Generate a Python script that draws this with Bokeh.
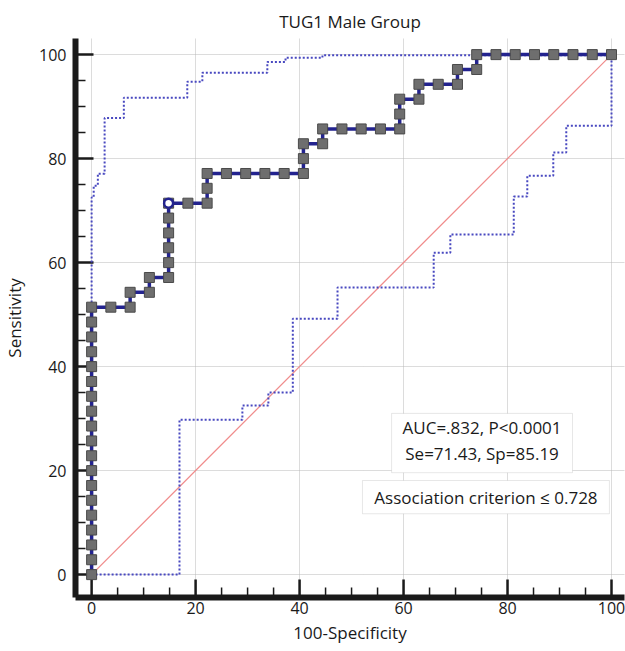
import math
from bokeh.plotting import figure
from bokeh.models import BoxAnnotation, Label, FixedTicker
from bokeh.embed import file_html
from bokeh.resources import INLINE

# ROC curve of TUG1 (male group): 100-specificity vs sensitivity, in percent
roc_fpr = [0, 0, 0, 0, 0, 0, 0, 0, 0, 0, 0, 0, 0, 0, 0, 0, 0, 0, 0,
           3.70, 7.41, 7.41, 11.11, 11.11, 14.81, 14.81, 14.81, 14.81, 14.81, 14.81,
           18.52, 22.22, 22.22, 22.22, 25.93, 29.63, 33.33, 37.04, 40.74, 40.74, 40.74,
           44.44, 44.44, 48.15, 51.85, 55.56, 59.26, 59.26, 59.26, 62.96, 62.96,
           66.67, 70.37, 70.37, 74.07, 74.07, 77.78, 81.48, 85.19, 88.89, 92.59, 96.30, 100]
roc_tpr = [0, 2.86, 5.71, 8.57, 11.43, 14.29, 17.14, 20.00, 22.86, 25.71, 28.57,
           31.43, 34.29, 37.14, 40.00, 42.86, 45.71, 48.57, 51.43,
           51.43, 51.43, 54.29, 54.29, 57.14, 57.14, 60.00, 62.86, 65.71, 68.57, 71.43,
           71.43, 71.43, 74.29, 77.14, 77.14, 77.14, 77.14, 77.14, 77.14, 80.00, 82.86,
           82.86, 85.71, 85.71, 85.71, 85.71, 85.71, 88.57, 91.43, 91.43, 94.29,
           94.29, 94.29, 97.14, 97.14, 100, 100, 100, 100, 100, 100, 100, 100]

# optimal cut-off (Youden) point
crit_fpr = [14.81]
crit_tpr = [71.43]

# 95% confidence bounds of the curve
upper_fpr = [0, 0, 0.4, 0.4, 1.2, 1.2, 2.5, 2.5, 6.2, 6.2, 18.4, 18.4, 21.3, 21.3,
             33.8, 33.8, 37.3, 37.3, 44.4, 44.4, 100]
upper_tpr = [0, 72.5, 72.5, 74.8, 74.8, 77.1, 77.1, 87.8, 87.8, 91.7, 91.7, 94.8, 94.8, 96.5,
             96.5, 98.6, 98.6, 99.4, 99.4, 99.9, 99.9]
lower_fpr = [0, 16.9, 16.9, 29.0, 29.0, 34.0, 34.0, 38.7, 38.7, 47.3, 47.3, 65.8, 65.8,
             69.0, 69.0, 81.2, 81.2, 83.8, 83.8, 88.8, 88.8, 91.3, 91.3, 100, 100]
lower_tpr = [0, 0, 29.8, 29.8, 32.5, 32.5, 35.0, 35.0, 49.2, 49.2, 55.2, 55.2, 61.9,
             61.9, 65.4, 65.4, 72.7, 72.7, 76.7, 76.7, 81.2, 81.2, 86.3, 86.3, 100]

# reference diagonal
diag = [0, 100]

major_ticks = [0, 20, 40, 60, 80, 100]
minor_ticks = [v for v in range(0, 101, 5) if v % 20]

FONT = "Open Sans"
TEXT = "#1a1a1a"
AXIS = "#1a1a1a"
X0, X1 = -3.1, 102.5
Y0, Y1 = -4.4, 103.1

p = figure(width=625, height=651, output_backend="svg", toolbar_location=None,
           x_range=(X0, X1), y_range=(Y0, Y1),
           min_border_left=75, min_border_right=1, min_border_top=38, min_border_bottom=54,
           title="TUG1 Male Group")
p.outline_line_color = None
p.background_fill_color = "white"
p.border_fill_color = "white"

p.title.align = "center"
p.title.text_font = FONT
p.title.text_font_size = "17px"
p.title.text_font_style = "normal"
p.title.text_color = TEXT
p.title.standoff = 12

for ax in (p.xaxis[0], p.yaxis[0]):
    ax.ticker = FixedTicker(ticks=major_ticks, minor_ticks=minor_ticks)
    ax.axis_line_width = 6
    ax.axis_line_color = AXIS
    ax.major_tick_line_color = None
    ax.minor_tick_line_color = None
    ax.major_tick_in = 0
    ax.major_tick_out = 0
    ax.minor_tick_in = 0
    ax.minor_tick_out = 0
    ax.major_label_text_font = FONT
    ax.major_label_text_font_size = "16px"
    ax.major_label_text_color = TEXT
    ax.axis_label_text_font = FONT
    ax.axis_label_text_font_size = "17px"
    ax.axis_label_text_font_style = "normal"
    ax.axis_label_text_color = TEXT

p.xaxis.axis_label = "100-Specificity"
p.yaxis.axis_label = "Sensitivity"
p.xaxis.major_label_standoff = 4
p.yaxis.major_label_standoff = 9
p.xaxis.axis_label_standoff = 4
p.yaxis.axis_label_standoff = 10

p.grid.ticker = FixedTicker(ticks=major_ticks)
p.grid.grid_line_color = "#b8b8b8"
p.grid.grid_line_dash = "1 1"
p.grid.grid_line_width = 1

# inward tick marks along the frame edges (the outer half is clipped by the frame)
p.scatter(major_ticks, [Y0] * len(major_ticks), marker="dash", size=36, angle=math.pi / 2,
          line_color=AXIS, line_width=2.5)
p.scatter(minor_ticks, [Y0] * len(minor_ticks), marker="dash", size=20, angle=math.pi / 2,
          line_color=AXIS, line_width=1.5)
p.scatter([X0] * len(major_ticks), major_ticks, marker="dash", size=36,
          line_color=AXIS, line_width=2.5)
p.scatter([X0] * len(minor_ticks), minor_ticks, marker="dash", size=20,
          line_color=AXIS, line_width=1.5)

# diagonal of no discrimination
p.line(diag, diag, line_color="#f08c8c", line_width=1.3)

# confidence bounds
for bx, by in ((upper_fpr, upper_tpr), (lower_fpr, lower_tpr)):
    p.line(bx, by, line_color="#4848c0", line_width=2, line_dash="2 2")

# ROC curve with markers at every observed step
p.line(roc_fpr, roc_tpr, line_color="#23238f", line_width=3.5)
p.scatter(roc_fpr, roc_tpr, marker="square", size=10,
          fill_color="#6e6e6e", line_color="#4a4a4a", line_width=1)
p.scatter(crit_fpr, crit_tpr, marker="circle", size=9,
          fill_color="white", line_color="#23238f", line_width=2.5)

# statistics boxes
p.add_layout(BoxAnnotation(left=57.7, right=92.5, bottom=19.6, top=31.0,
                           fill_color="white", fill_alpha=1,
                           line_color="#b0b0b0", line_width=1))
p.add_layout(BoxAnnotation(left=52.1, right=99.6, bottom=11.7, top=18.1,
                           fill_color="white", fill_alpha=1,
                           line_color="#b0b0b0", line_width=1))
for txt, xx, yy in (("AUC=.832, P<0.0001", 75.1, 28.3),
                    ("Se=71.43, Sp=85.19", 75.1, 23.2),
                    ("Association criterion \u2264 0.728", 75.85, 14.9)):
    p.add_layout(Label(x=xx, y=yy, text=txt,
                       text_align="center", text_baseline="middle",
                       text_font=FONT, text_font_size="17px", text_color=TEXT))

open("out.html", "w").write(file_html(p, INLINE))
